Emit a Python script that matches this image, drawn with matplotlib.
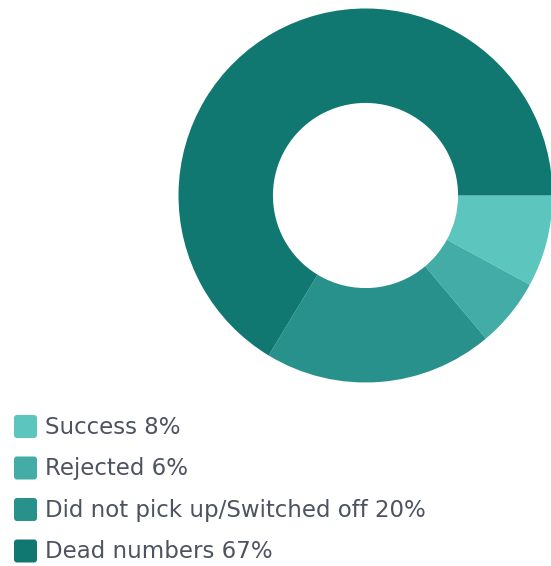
import matplotlib
matplotlib.use("Agg")
import matplotlib.pyplot as plt
from matplotlib.patches import FancyBboxPatch

labels = ["Success", "Rejected", "Did not pick up/Switched off", "Dead numbers"]
shares = [8, 6, 20, 67]
colors = ["#5cc5be", "#43aca6", "#28918b", "#107870"]

W, H = 551, 566
fig = plt.figure(figsize=(W / 100, H / 100), dpi=100)
fig.patch.set_facecolor("white")

# donut, placed by pixel box
cx, cy, r = 365.5, 195.5, 187
ax = fig.add_axes([(cx - r) / W, 1 - (cy + r) / H, 2 * r / W, 2 * r / H])
ax.pie(shares, colors=colors, startangle=0, counterclock=False, radius=1,
       wedgeprops=dict(width=0.505, linewidth=0))
ax.set_xlim(-1, 1)
ax.set_ylim(-1, 1)
ax.set_aspect("equal")
ax.axis("off")

# legend drawn in pixel coordinates
lg = fig.add_axes([0, 0, 1, 1])
lg.set_xlim(0, W)
lg.set_ylim(H, 0)
lg.axis("off")
row_y = [426.5, 468, 509.5, 551]
for lab, val, col, y in zip(labels, shares, colors, row_y):
    lg.add_patch(FancyBboxPatch((14, y - 11.5), 23, 23,
                                boxstyle="round,pad=0,rounding_size=3",
                                fc=col, ec="none"))
    lg.text(45, y + 1, f"{lab} {val}%", fontsize=16.5, family="DejaVu Sans",
            color="#4d5360", va="center", ha="left")

fig.savefig("out.png", dpi=100)
